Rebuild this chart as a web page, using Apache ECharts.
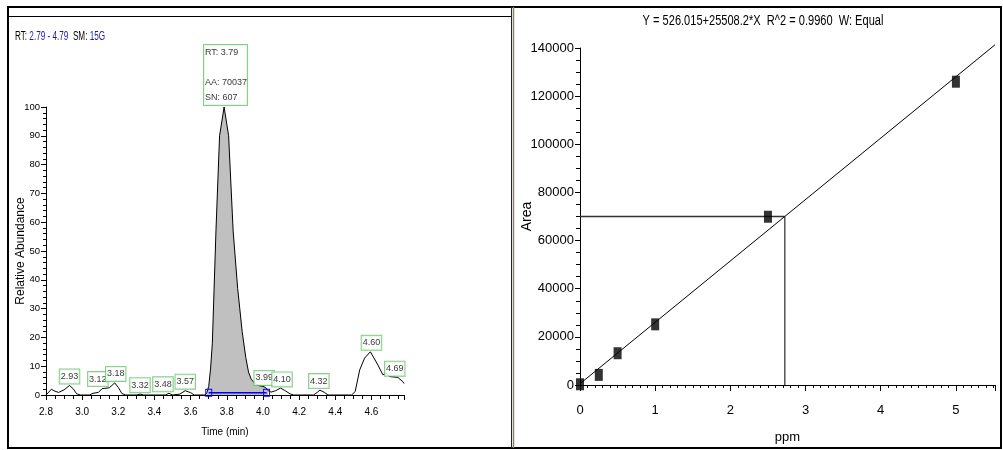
<!DOCTYPE html>
<html>
<head>
<meta charset="utf-8">
<script src="https://cdn.jsdelivr.net/npm/echarts@6/dist/echarts.min.js"></script>
<style>
  html, body { margin: 0; padding: 0; background: #fff; }
  #chart { width: 1003px; height: 450px; }
</style>
</head>
<body>
<div id="chart"></div>
<script>
// ---- Chromatogram (left panel) ----
const chromTime = [2.80, 2.81, 2.83, 2.85, 2.87, 2.90, 2.93, 2.95, 2.97, 2.99, 3.04, 3.06, 3.09, 3.11, 3.15, 3.18, 3.20, 3.22, 3.24,
  3.30, 3.32, 3.34, 3.46, 3.48, 3.50, 3.54, 3.57, 3.60, 3.62, 3.68, 3.69, 3.70, 3.71, 3.72, 3.74, 3.76, 3.785, 3.81, 3.835,
  3.86, 3.885, 3.905, 3.92, 3.935, 3.955, 3.98, 4.00, 4.015, 4.028, 4.045, 4.07, 4.097, 4.12, 4.15, 4.17, 4.28, 4.30, 4.315,
  4.34, 4.36, 4.49, 4.51, 4.535, 4.562, 4.594, 4.636, 4.663, 4.682, 4.70, 4.746, 4.774, 4.78];
const chromAbund = [0, 0.6, 2.0, 1.3, 0.9, 1.8, 3.3, 2.2, 0.4, 0, 0, 0.6, 0.9, 2.2, 2.5, 4.2, 2.6, 0.5, 0,
  0, 0.3, 0, 0, 0.6, 0, 0.3, 1.5, 0.8, 0, 0, 0.8, 3, 9, 18, 57, 90, 100, 90, 57,
  37, 22, 13, 8, 5.5, 4, 3.2, 3.0, 2.6, 1.5, 1.0, 1.5, 2.4, 1.6, 0.4, 0, 0, 0.9, 1.7,
  0.9, 0, 0, 1.2, 8.7, 12.8, 15, 10.4, 7, 7.5, 6.4, 6.1, 4.6, 4.0];

const peakRT = [2.93, 3.12, 3.18, 3.32, 3.48, 3.57, 3.79, 3.99, 4.10, 4.32, 4.60, 4.69];
const peakHeight = [3.3, 2.4, 4.2, 0.3, 0.6, 1.5, 100, 2.8, 2.3, 1.7, 15, 6];

const sampleRT = 3.79;
const sampleArea = 70037;
const sampleSN = 607;

const integTimes = [3.70, 4.02];
const integLevel = [0.8, 0.8];
const fillRange = [3.69, 4.03];

const rtRange = [2.79, 4.79];
const smoothing = '15G';
const xExtentLeft = [2.8, 4.78];
const yExtentLeft = [0, 100];

// ---- Calibration curve (right panel) ----
const stdConc = [0, 0.25, 0.5, 1, 2.5, 5];
const stdArea = [300, 4200, 13200, 25200, 69900, 126000];
const intercept = 526.015;
const slope = 25508.2;
const rSquared = 0.9960;
const weighting = 'Equal';
const concRange = [0, 5.52];
const areaRange = [0, 140000];

const FONT = "'Liberation Sans',Arial,sans-serif";

// Chromatogram points
const chromData = chromTime.map((t, i) => [t, chromAbund[i]]);
const fillData = chromData.filter(p => p[0] >= fillRange[0] && p[0] <= fillRange[1]);

// Peak label nudges (pixels) where neighbouring labels would collide
const labelNudge = { 3.12: -6, 3.18: 1, 3.48: -6, 3.99: 3, 4.10: 1, 4.32: -2, 4.69: 7 };

const peakItems = peakRT.map((rt, i) => {
  const item = { value: [rt, peakHeight[i]] };
  if (rt === sampleRT) {
    item.label = {
      formatter: 'RT: ' + sampleRT.toFixed(2) + '\n\nAA: ' + sampleArea + '\nSN: ' + sampleSN,
      align: 'left',
      offset: [-21, 0],
      lineHeight: 15,
      padding: [0, 0, 0, 1]
    };
  } else if (labelNudge[rt] !== undefined) {
    item.label = { offset: [labelNudge[rt], 0] };
  }
  return item;
});

// Interpolation of the sample area on the calibration line
const sampleConc = (sampleArea - intercept) / slope;
const fitLine = concRange.map(x => [x, intercept + slope * x]);

const titleText = 'Y = ' + intercept + '+' + slope + '*X  R^2 = ' + rSquared.toFixed(4) + '  W: ' + weighting;

const chart = echarts.init(document.getElementById('chart'), null, { renderer: 'canvas' });

const axisBlack = { lineStyle: { color: '#000', width: 1 } };

chart.setOption({
  animation: false,
  backgroundColor: '#fff',
  grid: [
    { left: 46, right: 599, top: 107, bottom: 55 },
    { left: 580, right: 8, top: 48, bottom: 65 }
  ],
  xAxis: [
    {
      gridIndex: 0, type: 'value', min: xExtentLeft[0], max: xExtentLeft[1], interval: 0.2,
      axisLine: axisBlack,
      axisTick: { show: true, length: 5, lineStyle: { color: '#000' } },
      minorTick: { show: true, splitNumber: 4, length: 4, lineStyle: { color: '#000' } },
      splitLine: { show: false },
      axisLabel: { color: '#000', fontFamily: FONT, fontSize: 10, margin: 12, showMaxLabel: false,
        formatter: v => v.toFixed(1) },
      name: 'Time (min)', nameLocation: 'middle', nameGap: 32, nameMoveOverlap: false,
      nameTextStyle: { color: '#000', fontFamily: FONT, fontSize: 10 }
    },
    {
      gridIndex: 1, type: 'value', min: concRange[0], max: concRange[1], interval: 1,
      axisLine: axisBlack,
      axisTick: { show: true, length: 6, lineStyle: { color: '#000' } },
      minorTick: { show: true, splitNumber: 10, length: 3, lineStyle: { color: '#000' } },
      splitLine: { show: false },
      axisLabel: { color: '#000', fontFamily: FONT, fontSize: 13, margin: 19, showMaxLabel: false },
      name: 'ppm', nameLocation: 'middle', nameGap: 46, nameMoveOverlap: false,
      nameTextStyle: { color: '#000', fontFamily: FONT, fontSize: 13 }
    }
  ],
  yAxis: [
    {
      gridIndex: 0, type: 'value', min: yExtentLeft[0], max: yExtentLeft[1], interval: 10,
      axisLine: { show: true, lineStyle: { color: '#000', width: 1 } },
      axisTick: { show: true, length: 5, lineStyle: { color: '#000' } },
      minorTick: { show: true, splitNumber: 5, length: 3, lineStyle: { color: '#000' } },
      splitLine: { show: false },
      axisLabel: { color: '#000', fontFamily: FONT, fontSize: 9.5, margin: 6 },
      name: 'Relative Abundance', nameLocation: 'middle', nameGap: 19, nameRotate: 90, nameMoveOverlap: false,
      nameTextStyle: { color: '#000', fontFamily: FONT, fontSize: 12 }
    },
    {
      gridIndex: 1, type: 'value', min: areaRange[0], max: areaRange[1], interval: 20000,
      axisLine: { show: true, lineStyle: { color: '#000', width: 1 } },
      axisTick: { show: true, length: 5, lineStyle: { color: '#000' } },
      minorTick: { show: true, splitNumber: 4, length: 4, lineStyle: { color: '#000' } },
      splitLine: { show: false },
      axisLabel: { color: '#000', fontFamily: FONT, fontSize: 13, margin: 6, formatter: v => String(v) },
      name: 'Area', nameLocation: 'middle', nameGap: 46, nameRotate: 90, nameMoveOverlap: false,
      nameTextStyle: { color: '#000', fontFamily: FONT, fontSize: 14 }
    }
  ],
  series: [
    // integrated peak area
    {
      type: 'line', xAxisIndex: 0, yAxisIndex: 0, data: fillData, showSymbol: false, z: 1,
      lineStyle: { width: 0, opacity: 0 }, areaStyle: { color: '#c0c0c0', opacity: 1 }
    },
    // chromatogram trace
    {
      type: 'line', xAxisIndex: 0, yAxisIndex: 0, data: chromData, showSymbol: false, z: 3,
      lineStyle: { color: '#000', width: 1 }
    },
    // integration baseline
    {
      type: 'line', xAxisIndex: 0, yAxisIndex: 0, z: 4,
      data: integTimes.map((t, i) => [t, integLevel[i]]),
      symbol: 'rect', symbolSize: [6, 7], showSymbol: true,
      itemStyle: { color: 'rgba(255,255,255,0)', borderColor: '#0000ff', borderWidth: 1 },
      lineStyle: { color: '#0000ff', width: 1.5 }
    },
    // peak retention-time labels
    {
      type: 'scatter', xAxisIndex: 0, yAxisIndex: 0, symbolSize: 0, z: 5,
      data: peakItems,
      label: {
        show: true, position: 'top', distance: 2,
        formatter: p => p.value[0].toFixed(2),
        color: '#000', fontFamily: FONT, fontSize: 9, lineHeight: 14,
        backgroundColor: '#fff', borderColor: '#66c266', borderWidth: 1, padding: [0, 1, 0, 1]
      }
    },
    // calibration fit line
    {
      type: 'line', xAxisIndex: 1, yAxisIndex: 1, data: fitLine, showSymbol: false, clip: false, z: 2,
      lineStyle: { color: '#000', width: 1 }
    },
    // sample interpolation: horizontal then vertical
    {
      type: 'line', xAxisIndex: 1, yAxisIndex: 1, showSymbol: false, z: 2,
      data: [[0, sampleArea], [sampleConc, sampleArea]],
      lineStyle: { color: '#333', width: 1.5 }
    },
    {
      type: 'line', xAxisIndex: 1, yAxisIndex: 1, showSymbol: false, z: 2,
      data: [[sampleConc, sampleArea], [sampleConc, 0]],
      lineStyle: { color: '#000', width: 1 }
    },
    // calibration standards
    {
      type: 'scatter', xAxisIndex: 1, yAxisIndex: 1, z: 4,
      data: stdConc.map((c, i) => [c, stdArea[i]]),
      symbol: 'rect', symbolSize: [8, 12],
      itemStyle: { color: '#000' }
    }
  ],
  graphic: [
    // panel frames
    { type: 'line', shape: { x1: 7, y1: 7, x2: 1002, y2: 7 }, style: { stroke: '#000', lineWidth: 2 } },
    { type: 'line', shape: { x1: 8, y1: 7, x2: 8, y2: 448 }, style: { stroke: '#000', lineWidth: 2 } },
    { type: 'line', shape: { x1: 7, y1: 448, x2: 1002, y2: 448 }, style: { stroke: '#000', lineWidth: 2 } },
    { type: 'line', shape: { x1: 1001, y1: 7, x2: 1001, y2: 448 }, style: { stroke: '#000', lineWidth: 2 } },
    { type: 'line', shape: { x1: 511.5, y1: 7, x2: 511.5, y2: 448 }, style: { stroke: '#222', lineWidth: 1 } },
    { type: 'line', shape: { x1: 513.5, y1: 7, x2: 513.5, y2: 448 }, style: { stroke: '#8a8070', lineWidth: 1.5 } },
    { type: 'line', shape: { x1: 8, y1: 16.5, x2: 511, y2: 16.5 }, style: { stroke: '#000', lineWidth: 1 } },
    // chromatogram header
    {
      type: 'text', x: 15, y: 37, scaleX: 0.68,
      style: {
        text: '{k|RT:} {v|' + rtRange[0].toFixed(2) + ' - ' + rtRange[1].toFixed(2) + '}  {k|SM:} {v|' + smoothing + '}',
        verticalAlign: 'middle', align: 'left',
        rich: {
          k: { fill: '#000', fontFamily: FONT, fontSize: 12 },
          v: { fill: '#1c1ca8', fontFamily: FONT, fontSize: 12 }
        }
      }
    },
    // calibration equation
    {
      type: 'text', x: 763, y: 21, scaleX: 0.79,
      style: { text: titleText, fill: '#000', fontFamily: FONT, fontSize: 14, align: 'center', verticalAlign: 'middle' }
    }
  ]
});
</script>
</body>
</html>
